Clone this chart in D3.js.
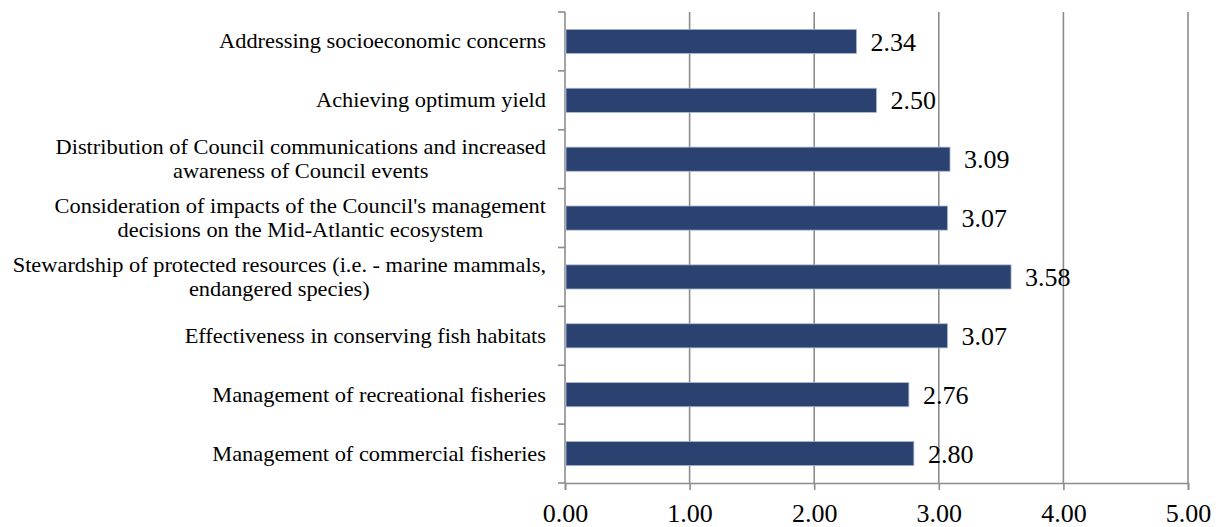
<!DOCTYPE html>
<html><head><meta charset="utf-8">
<script src="https://cdn.jsdelivr.net/npm/d3@7"></script>
<style>body{margin:0;background:#fff}svg{display:block}</style>
</head><body>
<svg id="c" width="1220" height="527"></svg>
<script>
const categories = [
  ["Addressing socioeconomic concerns"],
  ["Achieving optimum yield"],
  ["Distribution of Council communications and increased", "awareness of Council events"],
  ["Consideration of impacts of the Council's management", "decisions on the Mid-Atlantic ecosystem"],
  ["Stewardship of protected resources (i.e. - marine mammals,", "endangered species)"],
  ["Effectiveness in conserving fish habitats"],
  ["Management of recreational fisheries"],
  ["Management of commercial fisheries"]
];
const values = [2.34, 2.50, 3.09, 3.07, 3.58, 3.07, 2.76, 2.80];
const xTicks = [0, 1, 2, 3, 4, 5];

const svg = d3.select("#c");
const m = {left: 565, right: 1188, top: 12, bottom: 483};
const font = "'Liberation Serif','Times New Roman',serif";
const grid = "#8c8c8c";

const x = d3.scaleLinear().domain([0, 5]).range([m.left, m.right]);
const idx = d3.range(categories.length);
const y = d3.scaleBand().domain(idx).range([m.top, m.bottom]).paddingInner(0.59).paddingOuter(0.295);
const yb = d3.scaleBand().domain(idx).range([m.top, m.bottom]);

// gridlines
svg.append("g").selectAll("line").data(xTicks.slice(1)).join("line")
  .attr("x1", d => x(d)).attr("x2", d => x(d))
  .attr("y1", m.top).attr("y2", m.bottom)
  .attr("stroke", grid).attr("stroke-width", 1.6);

// bottom axis
const xAxis = d3.axisBottom(x).tickValues(xTicks).tickFormat(d3.format(".2f")).tickSizeOuter(0).tickSize(7).tickPadding(14);
const gx = svg.append("g").attr("transform", `translate(0,${m.bottom})`).call(xAxis);
gx.select(".domain").attr("stroke", grid).attr("stroke-width", 1.6);
gx.selectAll(".tick line").attr("stroke", grid).attr("stroke-width", 1.6);
gx.selectAll(".tick text").attr("font-family", font).attr("font-size", 26).attr("fill", "#000");

// left axis line with boundary ticks
svg.append("line").attr("x1", m.left).attr("x2", m.left).attr("y1", m.top).attr("y2", m.bottom)
  .attr("stroke", grid).attr("stroke-width", 1.6);
svg.append("g").selectAll("line").data(d3.range(categories.length + 1)).join("line")
  .attr("x1", m.left - 7).attr("x2", m.left)
  .attr("y1", d => m.top + d * yb.step()).attr("y2", d => m.top + d * yb.step())
  .attr("stroke", grid).attr("stroke-width", 1.6);

// bars
svg.append("g").selectAll("rect").data(values).join("rect")
  .attr("x", x(0) + 1).attr("y", (d, i) => y(i))
  .attr("width", d => x(d) - x(0) - 1).attr("height", y.bandwidth())
  .attr("fill", "#2b4170").attr("stroke", "#a9b8d6").attr("stroke-width", 0.8);

// value labels
svg.append("g").selectAll("text").data(values).join("text")
  .attr("x", d => x(d) + 14).attr("y", (d, i) => y(i) + y.bandwidth() / 2)
  .attr("dy", "0.35em")
  .attr("font-family", font).attr("font-size", 26).attr("fill", "#000")
  .text(d => d.toFixed(2));

// category labels
const lab = svg.append("g").selectAll("text").data(categories).join("text")
  .attr("font-family", font).attr("font-size", 20).attr("fill", "#000")
  .attr("text-anchor", "middle")
  .attr("transform", (d, i) => `translate(546,${yb(i) + yb.bandwidth() / 2}) scale(1.12,1)`);
lab.each(function(lines) {
  const t = d3.select(this);
  const n = lines.length;
  lines.forEach((s, k) => {
    t.append("tspan").attr("x", 0).attr("y", (k - (n - 1) / 2) * 24).attr("dy", "0.35em").text(s);
  });
});
lab.each(function() {
  const t = d3.select(this);
  const w = d3.max(t.selectAll("tspan").nodes(), n => n.getComputedTextLength());
  t.selectAll("tspan").attr("x", -w / 2);
});
</script>
</body></html>
